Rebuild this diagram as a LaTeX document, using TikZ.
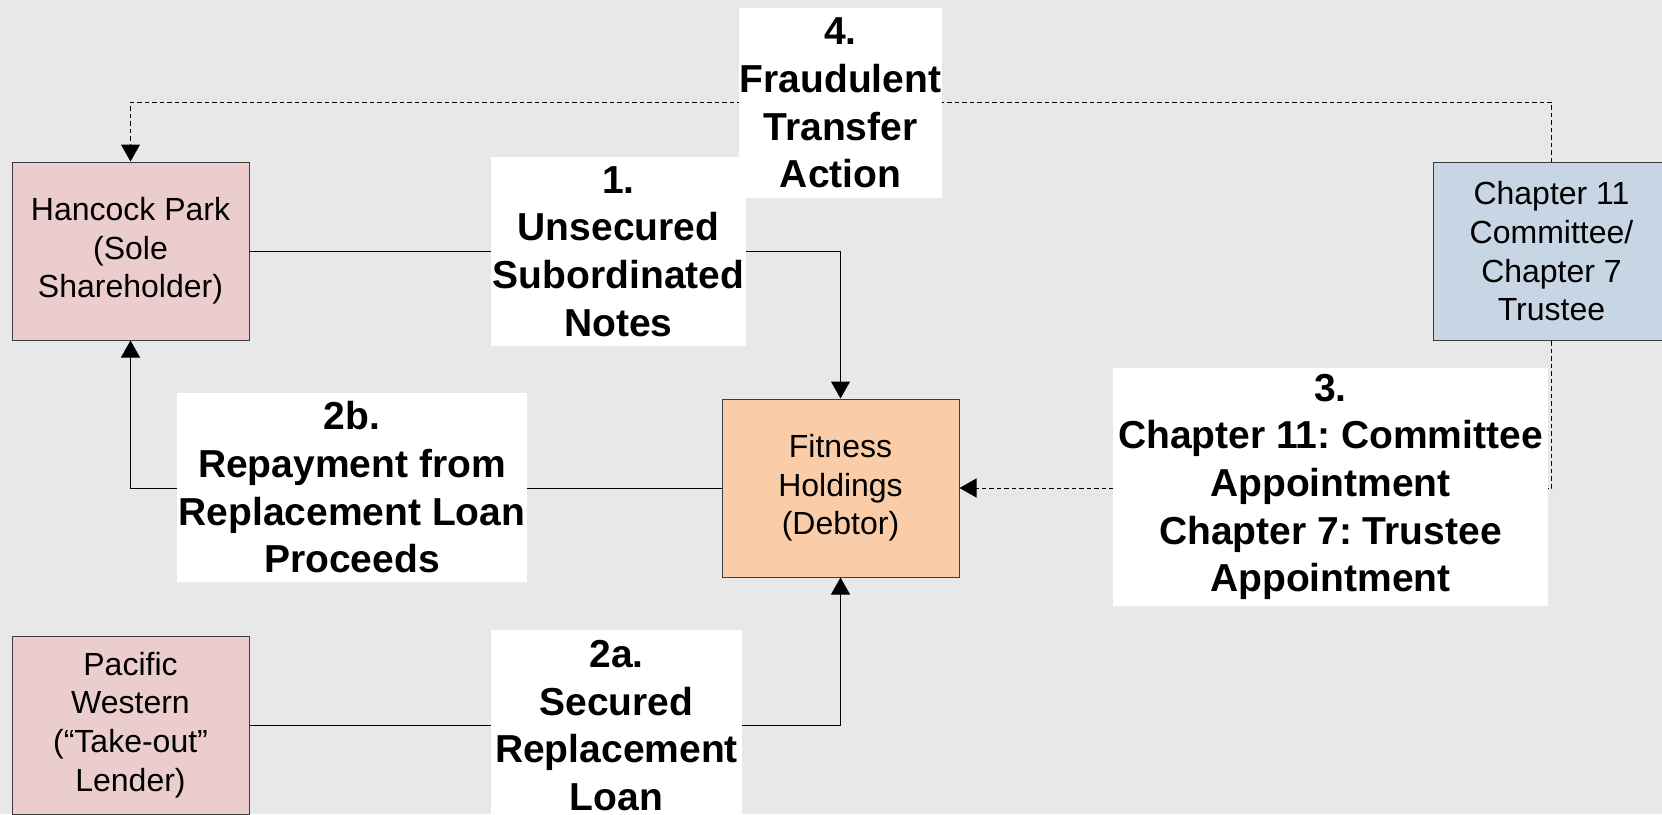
\documentclass[tikz,border=0pt]{standalone}
\usepackage{fontspec}
\setmainfont{Liberation Sans}
\usetikzlibrary{arrows.meta,positioning}

\definecolor{woodgray}{RGB}{232,232,232}
\definecolor{lenderpink}{RGB}{236,205,205}
\definecolor{debtorpeach}{RGB}{250,205,168}
\definecolor{trusteeblue}{RGB}{200,213,228}
\definecolor{edgegray}{RGB}{60,60,60}

\tikzset{
	party/.style={draw=edgegray, line width=1pt, minimum width=237pt, minimum height=178pt,
		inner sep=0pt, align=center, font={\fontsize{32}{38.7}\selectfont}},
	steplabel/.style={fill=white, inner sep=0pt, align=center,
		font={\fontsize{39}{47.7}\selectfont\bfseries\frenchspacing}},
	flow/.style={line width=1pt, -{Triangle[width=19pt,length=17pt]}},
	claim/.style={flow, dash pattern=on 4.5pt off 3pt},
}

\begin{document}
\begin{tikzpicture}[x=1pt, y=-1pt]
	\fill[woodgray] (0,0) rectangle (1662,814);
	\useasboundingbox (0,0) rectangle (1662,814);

	% parties
	\node[party, fill=lenderpink] (hancock) at (130.5,251) {Hancock Park\\(Sole\\Shareholder)};
	\node[party, fill=debtorpeach] (fitness) at (840.5,488) {Fitness\\Holdings\\(Debtor)};
	\node[party, fill=lenderpink] (pacific) at (130.5,725) {Pacific\\Western\\(``Take-out''\\Lender)};
	\node[party, fill=trusteeblue] (trustee) at (1551.5,251.5) {Chapter 11\\Committee/\\Chapter 7\\Trustee};

	% connectors
	\draw[flow] (hancock.east) -| (fitness.north);
	\draw[flow] (fitness.west) -| (hancock.south);
	\draw[flow] (pacific.east) -| (fitness.south);
	\draw[claim] (trustee.south) |- (fitness.east);
	\draw[claim] (trustee.north) -- ++(0,-60) -| (hancock.north);

	% step labels
	\node[steplabel, minimum width=203pt, minimum height=190pt] (step4) at (840.5,103) {4.\\Fraudulent\\Transfer\\Action};
	\node[steplabel, minimum width=255pt, minimum height=189pt] (step1) at (618.5,251.5) {1.\\Unsecured\\Subordinated\\Notes};
	\node[steplabel, minimum width=350pt, minimum height=189pt] (step2b) at (352,487.5) {2b.\\Repayment from\\Replacement Loan\\Proceeds};
	\node[steplabel, minimum width=435pt, minimum height=238pt] (step3) at (1330.5,487) {3.\\Chapter 11: Committee\\Appointment\\Chapter 7: Trustee\\Appointment};
	\node[steplabel, minimum width=251pt, minimum height=191pt] (step2a) at (616.5,725.5) {2a.\\Secured\\Replacement\\Loan};
\end{tikzpicture}
\end{document}
